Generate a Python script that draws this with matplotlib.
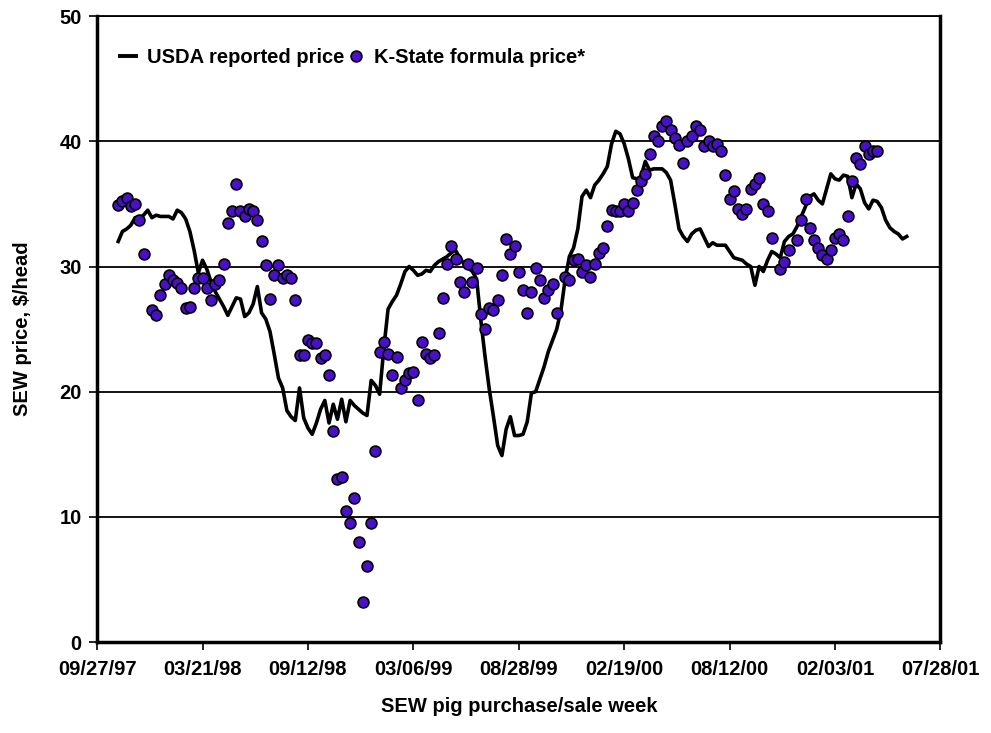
import datetime as dt
import matplotlib
matplotlib.use("Agg")
import matplotlib.pyplot as plt
import matplotlib.dates as mdates
from matplotlib.lines import Line2D

plt.rcParams['font.family'] = ['Liberation Sans', 'DejaVu Sans']
plt.rcParams['font.weight'] = 'bold'

# weekly series, week 0 = 09/27/97
start = dt.datetime(1997, 9, 27)
usda_first_week = 5
usda_price = [
    32.0, 32.8, 33.0, 33.3, 33.9, 33.9, 34.1, 34.5, 33.9, 34.1,
    34.0, 34.0, 34.0, 33.8, 34.5, 34.3, 33.8, 32.8, 31.3, 29.5,
    30.5, 29.8, 28.8, 28.0, 27.4, 26.8, 26.1, 26.8, 27.5, 27.4,
    26.0, 26.3, 27.0, 28.4, 26.3, 25.8, 24.8, 23.0, 21.1, 20.3,
    18.5, 18.0, 17.7, 20.3, 17.9, 17.1, 16.6, 17.5, 18.6, 19.3,
    17.5, 19.0, 17.8, 19.4, 17.6, 19.3, 18.9, 18.6, 18.3, 18.1,
    20.9, 20.5, 19.8, 23.5, 26.6, 27.2, 27.7, 28.6, 29.6, 30.0,
    29.7, 29.3, 29.4, 29.7, 29.6, 30.1, 30.4, 30.6, 30.8, 31.1,
    31.3, 30.7, 30.2, 29.9, 29.6, 29.0, 25.7, 22.8, 20.2, 18.0,
    15.7, 14.9, 17.0, 18.0, 16.5, 16.5, 16.6, 17.6, 19.9, 20.0,
    21.0, 22.0, 23.2, 24.1, 25.0, 26.5, 29.0, 30.8, 31.5, 33.0,
    35.6, 36.1, 35.5, 36.5, 36.9, 37.4, 38.0, 39.8, 40.8, 40.6,
    39.8, 38.6, 37.1, 37.0, 37.2, 38.4, 37.7, 37.8, 37.8, 37.8,
    37.5, 36.9, 35.0, 33.0, 32.4, 32.0, 32.6, 32.9, 33.0, 32.3,
    31.6, 31.9, 31.7, 31.7, 31.7, 31.2, 30.7, 30.6, 30.5, 30.2,
    30.0, 28.5, 30.0, 29.6, 30.5, 31.2, 31.0, 30.7, 32.0, 32.4,
    32.6, 33.2, 34.0, 34.8, 35.6, 35.8, 35.3, 35.0, 36.2, 37.4,
    37.0, 36.9, 37.3, 37.2, 35.5, 36.6, 36.2, 35.1, 34.6, 35.3,
    35.2, 34.7, 33.7, 33.1, 32.8, 32.6, 32.2, 32.4,
]

kstate_week = [
    5, 6, 7, 8, 9, 10, 11, 13, 14, 15, 16, 17, 18, 19, 20, 21, 22, 23, 24, 25,
    26, 27, 28, 29, 30, 31, 32, 33, 34, 35, 36, 37, 38, 39, 40, 41, 42, 43, 44, 45,
    46, 47, 48, 49, 50, 51, 52, 53, 54, 55, 56, 57, 58, 59, 60, 61, 62, 63, 64, 65,
    66, 67, 68, 69, 70, 71, 72, 73, 74, 75, 76, 77, 78, 79, 80, 81, 82, 83, 84, 85,
    86, 87, 88, 89, 90, 91, 92, 93, 94, 95, 96, 97, 98, 99, 100, 101, 102, 103, 104, 105,
    106, 107, 108, 109, 111, 112, 113, 114, 115, 116, 117, 118, 119, 120, 121, 122, 123, 124, 125, 126,
    127, 128, 129, 130, 131, 132, 133, 134, 135, 136, 137, 138, 139, 140, 141, 142, 143, 144, 145, 146,
    147, 148, 149, 150, 151, 152, 153, 154, 155, 156, 157, 158, 159, 160, 162, 163, 164, 166, 167, 168,
    169, 170, 171, 172, 173, 174, 175, 176, 177, 178, 179, 180, 181, 182, 183, 184, 185,
]
kstate_price = [
    34.9, 35.2, 35.5, 34.8, 35.0, 33.7, 31.0, 26.5, 26.1, 27.7, 28.6, 29.3, 28.9, 28.7, 28.3, 26.7, 26.8, 28.3, 29.1, 29.1,
    28.3, 27.3, 28.6, 28.9, 30.2, 33.5, 34.4, 36.6, 34.4, 34.0, 34.6, 34.4, 33.7, 32.0, 30.1, 27.4, 29.3, 30.1, 29.1, 29.3,
    29.1, 27.3, 22.9, 22.9, 24.1, 23.9, 23.9, 22.7, 22.9, 21.3, 16.9, 13.0, 13.2, 10.5, 9.5, 11.5, 8.0, 3.2, 6.1, 9.5,
    15.3, 23.2, 24.0, 23.0, 21.3, 22.8, 20.3, 20.9, 21.5, 21.6, 19.3, 24.0, 23.0, 22.7, 22.9, 24.7, 27.5, 30.2, 31.6, 30.6,
    28.8, 28.0, 30.2, 28.8, 29.9, 26.2, 25.0, 26.7, 26.5, 27.3, 29.3, 32.2, 31.0, 31.6, 29.6, 28.1, 26.3, 28.0, 29.9, 28.9,
    27.5, 28.1, 28.6, 26.3, 29.2, 28.9, 30.5, 30.6, 29.6, 30.1, 29.2, 30.2, 31.1, 31.5, 33.2, 34.5, 34.4, 34.4, 35.0, 34.4,
    35.1, 36.1, 36.8, 37.4, 39.0, 40.4, 40.0, 41.2, 41.6, 40.9, 40.3, 39.7, 38.3, 40.0, 40.4, 41.2, 40.9, 39.6, 40.0, 39.6,
    39.8, 39.2, 37.3, 35.4, 36.0, 34.6, 34.2, 34.6, 36.2, 36.6, 37.1, 35.0, 34.4, 32.3, 29.8, 30.4, 31.3, 32.1, 33.7, 35.4,
    33.1, 32.1, 31.5, 30.9, 30.6, 31.3, 32.3, 32.6, 32.1, 34.0, 36.8, 38.7, 38.2, 39.6, 39.0, 39.2, 39.2,
]

tick_dates = [start + dt.timedelta(days=175 * k) for k in range(9)]

usda_dates = [start + dt.timedelta(weeks=usda_first_week + i) for i in range(len(usda_price))]
kstate_dates = [start + dt.timedelta(weeks=w) for w in kstate_week]

FS = 14.5
DOT = dict(ls='none', marker='o', ms=7.8, mfc='#4a10c8', mec='black', mew=1.2)

fig = plt.figure(figsize=(9.91, 7.33), dpi=100)
ax = fig.add_axes([0.098, 0.124, 0.851, 0.854])

ax.plot(usda_dates, usda_price, color='black', lw=2.6, zorder=3, solid_joinstyle='round')
ax.plot(kstate_dates, kstate_price, zorder=4, **DOT)

ax.set_xlim(tick_dates[0], tick_dates[-1])
ax.set_ylim(0, 50)
ax.set_xticks(tick_dates)
ax.xaxis.set_major_formatter(mdates.DateFormatter('%m/%d/%y'))
ax.set_yticks(range(0, 51, 10))
ax.yaxis.grid(True, color='black', lw=1.3)
ax.set_axisbelow(True)

for s in ax.spines.values():
    s.set_linewidth(2.5)
ax.spines['top'].set_linewidth(1.3)

ax.tick_params(axis='both', direction='out', length=6, width=1.2, labelsize=FS)
ax.tick_params(axis='x', pad=7)
ax.tick_params(axis='y', pad=5)
for lab in ax.get_xticklabels() + ax.get_yticklabels():
    lab.set_fontweight('bold')

ax.set_xlabel('SEW pig purchase/sale week', fontsize=FS, fontweight='bold', labelpad=13)
ax.set_ylabel('SEW price, $/head', fontsize=FS, fontweight='bold', labelpad=20)

handles = [Line2D([], [], color='black', lw=2.8), Line2D([], [], **DOT)]
ax.legend(handles, ['USDA reported price', 'K-State formula price*'], ncol=2,
          loc='center left', bbox_to_anchor=(0.018, 0.934), frameon=False,
          handlelength=0.8, handletextpad=0.5, columnspacing=0.2,
          borderaxespad=0, prop={'weight': 'bold', 'size': FS})

fig.savefig('out.png', dpi=100)
